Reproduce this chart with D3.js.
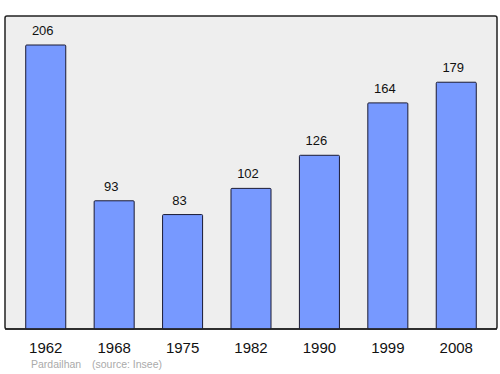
<!DOCTYPE html>
<html>
<head>
<meta charset="utf-8">
<script src="https://cdn.jsdelivr.net/npm/d3@7"></script>
<style>
  body { margin: 0; background: #fff; }
  text { font-family: "Liberation Sans", Arial, sans-serif; }
</style>
</head>
<body>
<script>
// Population data (Pardailhan)
const years = ['1962', '1968', '1975', '1982', '1990', '1999', '2008'];
const population = [206, 93, 83, 102, 126, 164, 179];
const place = 'Pardailhan';
const source = '(source: Insee)';

const width = 500;
const height = 374;
const frame = { left: 5, top: 16, right: 497, bottom: 329 };

const svg = d3.select('body')
  .append('svg')
  .attr('width', width)
  .attr('height', height);

// plot background
svg.append('rect')
  .attr('x', frame.left)
  .attr('y', frame.top)
  .attr('width', frame.right - frame.left)
  .attr('height', frame.bottom - frame.top)
  .attr('rx', 2)
  .attr('fill', '#eeeeee')
  .attr('stroke', '#222')
  .attr('stroke-width', 1.5);

const x = d3.scaleBand()
  .domain(years)
  .range([frame.left, frame.right])
  .paddingInner(0.415)
  .paddingOuter(0.303);

const y = d3.scaleLinear()
  .domain([0, 206])
  .range([frame.bottom, 45]);

const data = years.map((yr, i) => ({ year: yr, value: population[i] }));

svg.append('g')
  .selectAll('rect')
  .data(data)
  .enter()
  .append('rect')
  .attr('x', d => x(d.year))
  .attr('y', d => y(d.value))
  .attr('width', x.bandwidth())
  .attr('height', d => frame.bottom - y(d.value))
  .attr('rx', 1)
  .attr('fill', '#7799ff')
  .attr('stroke', '#1a1a33')
  .attr('stroke-width', 1);

// value labels (sit a little left of the bar centre in the original)
svg.append('g')
  .selectAll('text')
  .data(data)
  .enter()
  .append('text')
  .attr('x', d => x(d.year) + x.bandwidth() / 2 - 3)
  .attr('y', d => y(d.value) - 10)
  .attr('text-anchor', 'middle')
  .attr('font-size', 13)
  .attr('fill', '#111')
  .text(d => d.value);

// redraw frame bottom over bars
svg.append('line')
  .attr('x1', frame.left)
  .attr('x2', frame.right)
  .attr('y1', frame.bottom)
  .attr('y2', frame.bottom)
  .attr('stroke', '#222')
  .attr('stroke-width', 1.5);

// year labels
svg.append('g')
  .selectAll('text')
  .data(years)
  .enter()
  .append('text')
  .attr('x', d => x(d) + x.bandwidth() / 2)
  .attr('y', 353)
  .attr('text-anchor', 'middle')
  .attr('font-size', 15)
  .attr('fill', '#111')
  .text(d => d);

// footer
svg.append('text')
  .attr('x', 31)
  .attr('y', 368)
  .attr('font-size', 10.5)
  .attr('fill', '#aaaaaa')
  .text(place);

svg.append('text')
  .attr('x', 92)
  .attr('y', 368)
  .attr('font-size', 10.5)
  .attr('fill', '#aaaaaa')
  .text(source);
</script>
</body>
</html>
